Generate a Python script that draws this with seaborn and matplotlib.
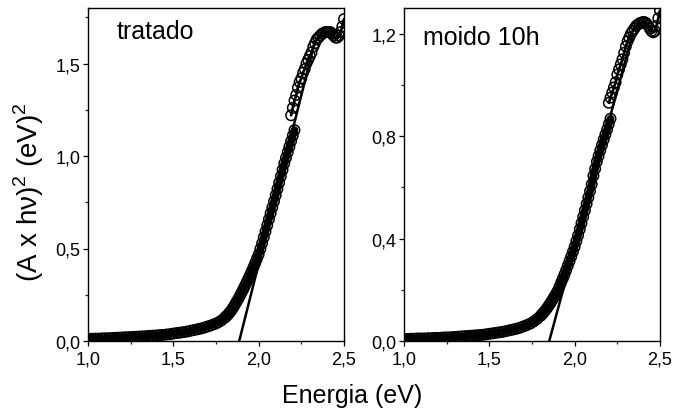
import numpy as np
import pandas as pd
import matplotlib
matplotlib.use("Agg")
import matplotlib.pyplot as plt
import seaborn as sns
from matplotlib.ticker import FixedLocator, MultipleLocator

sns.set_style("ticks")
plt.rcParams['font.family'] = ['Liberation Sans', 'DejaVu Sans']
plt.rcParams['mathtext.fontset'] = 'custom'
plt.rcParams['mathtext.rm'] = 'Liberation Sans'
plt.rcParams['text.color'] = 'black'
plt.rcParams['axes.labelcolor'] = 'black'

# ---------------- data: "tratado" ----------------
trat_x_low = [1.00, 1.02, 1.04, 1.06, 1.08, 1.10, 1.12, 1.14, 1.16, 1.18,
              1.20, 1.22, 1.24, 1.26, 1.28, 1.30, 1.32, 1.34, 1.36, 1.38,
              1.40, 1.42, 1.44, 1.46, 1.48, 1.50, 1.52, 1.54, 1.56, 1.58,
              1.60, 1.62, 1.64, 1.66, 1.68, 1.70, 1.72, 1.74, 1.76, 1.78,
              1.80, 1.81, 1.82, 1.83, 1.84, 1.85, 1.86, 1.87, 1.88, 1.89,
              1.90, 1.91, 1.92, 1.93, 1.94, 1.95, 1.96, 1.97, 1.98, 1.99,
              2.00, 2.01, 2.02, 2.03, 2.04, 2.05, 2.06, 2.07, 2.08, 2.09,
              2.10, 2.11, 2.12, 2.13, 2.14, 2.15, 2.16, 2.17, 2.18, 2.19,
              2.20, 2.21]
trat_y_low = [0.012, 0.012, 0.013, 0.013, 0.014, 0.015, 0.015, 0.016, 0.017, 0.018,
              0.019, 0.020, 0.021, 0.022, 0.023, 0.024, 0.025, 0.026, 0.028, 0.029,
              0.030, 0.032, 0.033, 0.035, 0.037, 0.040, 0.043, 0.045, 0.048, 0.051,
              0.055, 0.059, 0.063, 0.067, 0.072, 0.078, 0.084, 0.091, 0.099, 0.110,
              0.125, 0.133, 0.143, 0.154, 0.166, 0.180, 0.195, 0.211, 0.227, 0.244,
              0.262, 0.280, 0.299, 0.318, 0.338, 0.358, 0.379, 0.400, 0.422, 0.445,
              0.468, 0.498, 0.528, 0.560, 0.592, 0.625, 0.658, 0.690, 0.722, 0.755,
              0.788, 0.822, 0.856, 0.890, 0.925, 0.960, 0.990, 1.020, 1.050, 1.080,
              1.110, 1.140]
trat_x_up = [2.19, 2.20, 2.21, 2.22, 2.23, 2.24, 2.25, 2.26, 2.27, 2.28,
             2.29, 2.30, 2.31, 2.32, 2.33, 2.34, 2.35, 2.36, 2.37, 2.38,
             2.39, 2.40, 2.41, 2.42, 2.43, 2.44, 2.45, 2.46, 2.47, 2.48,
             2.49, 2.50]
trat_y_up = [1.22, 1.26, 1.30, 1.33, 1.37, 1.40, 1.42, 1.45, 1.47, 1.50,
             1.52, 1.54, 1.56, 1.59, 1.61, 1.63, 1.64, 1.65, 1.66, 1.665,
             1.67, 1.67, 1.67, 1.67, 1.66, 1.65, 1.64, 1.64, 1.65, 1.67,
             1.70, 1.74]
trat_fit_x = [1.886, 2.33]
trat_fit_y = [0.0, 1.62]

# ---------------- data: "moido 10h" ----------------
moid_x_low = trat_x_low
moid_y_low = [0.008, 0.008, 0.009, 0.009, 0.010, 0.010, 0.010, 0.011, 0.011, 0.012,
              0.012, 0.013, 0.014, 0.014, 0.015, 0.016, 0.017, 0.018, 0.019, 0.020,
              0.021, 0.022, 0.023, 0.024, 0.026, 0.028, 0.030, 0.032, 0.034, 0.036,
              0.039, 0.042, 0.045, 0.048, 0.052, 0.057, 0.062, 0.068, 0.076, 0.086,
              0.098, 0.105, 0.113, 0.121, 0.130, 0.140, 0.150, 0.161, 0.172, 0.183,
              0.195, 0.211, 0.227, 0.243, 0.259, 0.276, 0.294, 0.312, 0.330, 0.349,
              0.368, 0.390, 0.412, 0.436, 0.460, 0.485, 0.510, 0.535, 0.560, 0.585,
              0.612, 0.645, 0.672, 0.700, 0.722, 0.744, 0.765, 0.786, 0.806, 0.826,
              0.847, 0.868]
moid_x_up = [2.20, 2.21, 2.22, 2.23, 2.24, 2.25, 2.26, 2.27, 2.28, 2.29,
             2.30, 2.31, 2.32, 2.33, 2.34, 2.35, 2.36, 2.37, 2.38, 2.39,
             2.40, 2.41, 2.42, 2.43, 2.44, 2.45, 2.46, 2.47, 2.48, 2.49,
             2.50]
moid_y_up = [0.93, 0.95, 0.97, 0.99, 1.01, 1.04, 1.06, 1.08, 1.10, 1.125,
             1.15, 1.17, 1.185, 1.20, 1.21, 1.22, 1.23, 1.235, 1.24, 1.243,
             1.245, 1.245, 1.24, 1.232, 1.22, 1.21, 1.205, 1.21, 1.23, 1.26,
             1.29]
moid_fit_x = [1.851, 2.34]
moid_fit_y = [0.0, 1.20]

# ---------------- ticks / labels ----------------
x_ticks = [1.0, 1.5, 2.0, 2.5]
x_ticklabels = ["1,0", "1,5", "2,0", "2,5"]
trat_yticks = [0.0, 0.5, 1.0, 1.5]
trat_yticklabels = ["0,0", "0,5", "1,0", "1,5"]
moid_yticks = [0.0, 0.4, 0.8, 1.2]
moid_yticklabels = ["0,0", "0,4", "0,8", "1,2"]
panel_titles = ["tratado", "moido 10h"]
xlabel = "Energia (eV)"
ylabel = "(A x hν)$^2$ (eV)$^2$"

fig = plt.figure(figsize=(6.75, 4.14), dpi=100)
ax1 = fig.add_axes([88/675, 72/414, 256/675, 333/414])
ax2 = fig.add_axes([404/675, 72/414, 256/675, 333/414])

panels = [
    (ax1, trat_x_low, trat_y_low, trat_x_up, trat_y_up, trat_fit_x, trat_fit_y,
     trat_yticks, trat_yticklabels, (0, 1.80), 0.25, panel_titles[0], (0.112, 0.909)),
    (ax2, moid_x_low, moid_y_low, moid_x_up, moid_y_up, moid_fit_x, moid_fit_y,
     moid_yticks, moid_yticklabels, (0, 1.30), 0.2, panel_titles[1], (0.075, 0.892)),
]

for (ax, xl, yl, xu, yu, fx, fy, yt, ytl, ylim, ymin, title, tpos) in panels:
    for xs, ys, lw in [(xl, yl, 5.5), (xu, yu, 2.0)]:
        df = pd.DataFrame({"x": xs, "y": ys})
        sns.lineplot(data=df, x="x", y="y", ax=ax, color="black", lw=lw,
                     sort=False, estimator=None, zorder=2)
        sns.scatterplot(data=df, x="x", y="y", ax=ax, marker="o", s=56,
                        facecolor="none", edgecolor="black", linewidth=1.1,
                        zorder=3)
    dff = pd.DataFrame({"x": fx, "y": fy})
    sns.lineplot(data=dff, x="x", y="y", ax=ax, color="black", lw=1.8,
                 estimator=None, zorder=4)
    ax.set_xlim(1.0, 2.5)
    ax.set_ylim(*ylim)
    ax.xaxis.set_major_locator(FixedLocator(x_ticks))
    ax.set_xticklabels(x_ticklabels)
    ax.xaxis.set_minor_locator(MultipleLocator(0.25))
    ax.yaxis.set_major_locator(FixedLocator(yt))
    ax.set_yticklabels(ytl)
    ax.yaxis.set_minor_locator(MultipleLocator(ymin))
    ax.tick_params(which="major", direction="out", length=3.5, width=0.9,
                   labelsize=13, colors="black", pad=2)
    ax.tick_params(axis="x", which="major", pad=3)
    ax.tick_params(which="minor", direction="out", length=2.5, width=0.9)
    for sp in ax.spines.values():
        sp.set_visible(True)
        sp.set_color("black")
        sp.set_linewidth(1.0)
    ax.set_xlabel("")
    ax.set_ylabel("")
    ax.text(tpos[0], tpos[1], title, transform=ax.transAxes, fontsize=18,
            ha="left", va="baseline", color="black")

fig.text(352/675, 1 - 396/414, xlabel, fontsize=18, ha="center", va="center",
         color="black")
fig.text(29/675, 1 - 192/414, ylabel, fontsize=20, ha="center", va="center",
         rotation=90, color="black")

fig.savefig("out.png", dpi=100)
